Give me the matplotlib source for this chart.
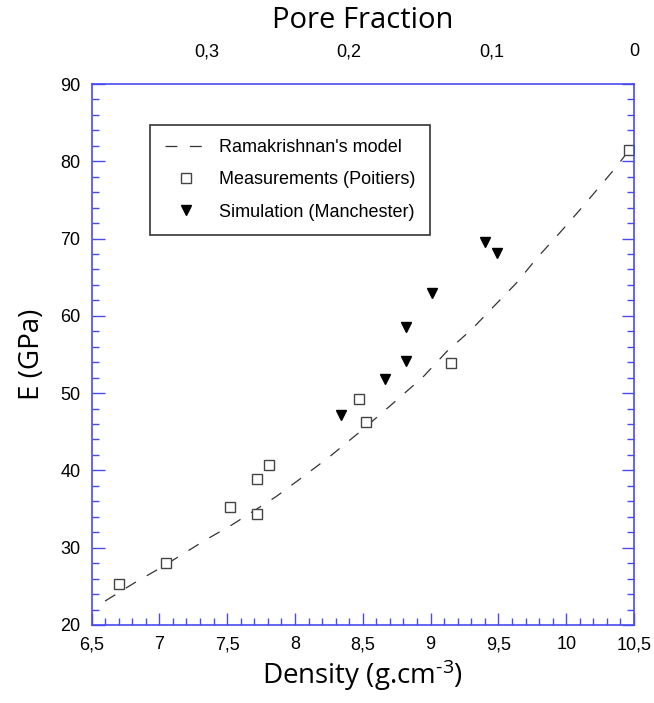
import numpy as np
import matplotlib.pyplot as plt
from matplotlib.ticker import MultipleLocator, FuncFormatter

meas_density = [6.70, 7.05, 7.52, 7.72, 7.72, 7.81, 8.47, 8.52, 9.15, 10.46]
meas_E = [25.3, 28.0, 35.3, 34.4, 38.9, 40.7, 49.3, 46.3, 53.9, 81.4]

sim_density = [8.34, 8.66, 8.82, 8.82, 9.01, 9.40, 9.49]
sim_E = [47.2, 51.8, 54.2, 58.5, 63.0, 69.6, 68.1]

model_density = [6.60, 6.83, 7.00, 7.35, 7.53, 7.86, 8.03, 8.25, 8.50, 8.77,
                 8.95, 9.12, 9.30, 9.47, 9.63, 9.79, 9.95, 10.10, 10.25, 10.37, 10.44]
model_E = [23.1, 25.6, 27.3, 31.1, 32.9, 36.6, 38.8, 41.7, 45.3, 49.4,
           52.2, 55.4, 58.2, 61.3, 64.2, 67.6, 70.7, 73.7, 76.8, 79.3, 80.9]

pore_ticks = [0.3, 0.2, 0.1, 0.0]
dense_theo = 10.5

blue = '#4a4af0'
comma = FuncFormatter(lambda v, p: ('%g' % v).replace('.', ','))

plt.rcParams['font.family'] = ['Liberation Sans', 'DejaVu Sans']
plt.rcParams['mathtext.fontset'] = 'custom'
plt.rcParams['mathtext.rm'] = 'Open Sans'
plt.rcParams['mathtext.it'] = 'Open Sans:italic'

fig = plt.figure(figsize=(6.54, 7.03), dpi=100)
ax = fig.add_axes([0.140, 0.111, 0.8295, 0.7695])

ax.plot(model_density, model_E, color='#333333', lw=0.9, dashes=(9.5, 10),
        label="Ramakrishnan's model")
ax.plot(meas_density, meas_E, ls='none', marker='s', ms=6.5, mfc='white',
        mec='#444444', mew=1.0, label='Measurements (Poitiers)')
ax.plot(sim_density, sim_E, ls='none', marker='v', ms=7.5, color='black',
        label='Simulation (Manchester)')

ax.set_xlim(6.5, 10.5)
ax.set_ylim(20, 90)
ax.xaxis.set_major_locator(MultipleLocator(0.5))
ax.xaxis.set_minor_locator(MultipleLocator(0.1))
ax.yaxis.set_major_locator(MultipleLocator(10))
ax.yaxis.set_minor_locator(MultipleLocator(2))
ax.xaxis.set_major_formatter(comma)
ax.tick_params(which='both', direction='in', color=blue, top=True, right=True,
               labelsize=13, width=1.0)
ax.tick_params(which='major', length=9, pad=8)
ax.tick_params(which='minor', length=5)
for s in ax.spines.values():
    s.set_color(blue)
    s.set_linewidth(1.2)

xfont = ['Open Sans', 'DejaVu Sans']
ax.set_xlabel(r'Density (g.cm$^{\text{-3}}$)', family=xfont, fontsize=20, labelpad=3)
ax.set_ylabel('E (GPa)', family=xfont, fontsize=20, labelpad=10)

top = ax.twiny()
top.set_xlim(ax.get_xlim())
top.set_xticks([dense_theo * (1 - p) for p in pore_ticks])
top.set_xticklabels([('%g' % p).replace('.', ',') for p in pore_ticks])
top.tick_params(length=0, labelsize=13, pad=17)
for s in top.spines.values():
    s.set_visible(False)
top.set_xlabel('Pore Fraction', family=xfont, fontsize=21, labelpad=11)

leg = ax.legend(loc='upper left', bbox_to_anchor=(0.108, 0.925), fontsize=13,
                frameon=True, fancybox=False, edgecolor='black',
                handlelength=2.4, handletextpad=0.6, labelspacing=0.85,
                borderpad=0.8, borderaxespad=0)
leg.get_frame().set_linewidth(1.2)

fig.savefig('out.png', dpi=100)
